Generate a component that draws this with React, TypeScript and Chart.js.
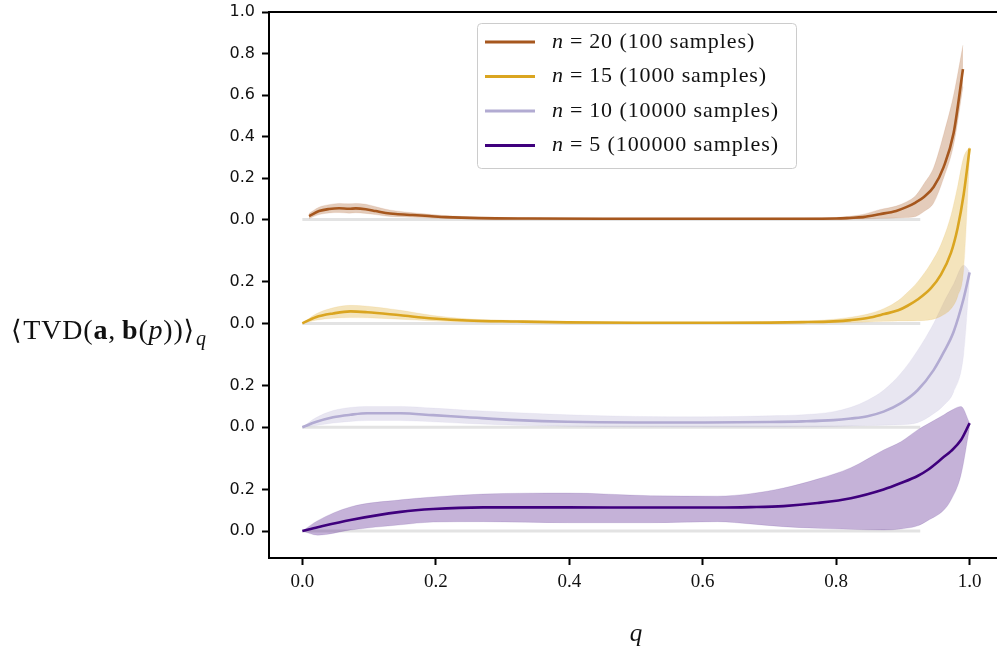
import React, { useEffect, useRef } from "react";
import { Chart, registerables } from "chart.js";

Chart.register(...registerables);

// ---------- data ----------
const N_VALUES = [20, 15, 10, 5];
const SAMPLE_COUNTS = [100, 1000, 10000, 100000];
const OFFSETS = [1.5, 1.0, 0.5, 0.0];
const COLORS = ["#a6571e", "#daa520", "#b2abd2", "#3f007d"];

const Q20 = [0.01, 0.025, 0.04, 0.055, 0.07, 0.08, 0.095, 0.11, 0.125, 0.14, 0.165, 0.19, 0.215, 0.265, 0.34, 0.45, 0.55, 0.65, 0.75, 0.8, 0.82, 0.84, 0.865, 0.89, 0.905, 0.919, 0.932, 0.946, 0.961, 0.976, 0.99];
const MEAN20 = [0.017, 0.041, 0.051, 0.055, 0.052, 0.054, 0.05, 0.041, 0.032, 0.027, 0.022, 0.017, 0.012, 0.007, 0.005, 0.004, 0.004, 0.004, 0.004, 0.005, 0.008, 0.012, 0.026, 0.042, 0.06, 0.082, 0.11, 0.157, 0.253, 0.417, 0.725];
const HIGH20 = [0.03, 0.06, 0.072, 0.078, 0.076, 0.078, 0.074, 0.062, 0.05, 0.042, 0.033, 0.026, 0.019, 0.012, 0.009, 0.007, 0.007, 0.007, 0.008, 0.01, 0.016, 0.025, 0.048, 0.065, 0.085, 0.115, 0.175, 0.25, 0.41, 0.6, 0.84];
const LOW20 = [0.005, 0.024, 0.032, 0.034, 0.031, 0.033, 0.03, 0.024, 0.017, 0.014, 0.011, 0.008, 0.006, 0.003, 0.002, 0.001, 0.001, 0.001, 0.001, 0.001, 0.002, 0.003, 0.006, 0.008, 0.01, 0.015, 0.04, 0.08, 0.2, 0.36, 0.64];

const Q15 = [0, 0.02, 0.046, 0.072, 0.097, 0.147, 0.196, 0.247, 0.322, 0.397, 0.5, 0.6, 0.7, 0.75, 0.796, 0.822, 0.847, 0.872, 0.893, 0.907, 0.922, 0.942, 0.957, 0.972, 0.982, 0.991, 1.0];
const MEAN15 = [0, 0.03, 0.048, 0.058, 0.054, 0.039, 0.024, 0.014, 0.009, 0.005, 0.003, 0.003, 0.004, 0.006, 0.01, 0.016, 0.026, 0.045, 0.063, 0.085, 0.115, 0.17, 0.235, 0.34, 0.46, 0.62, 0.843];
const HIGH15 = [0, 0.045, 0.075, 0.087, 0.083, 0.063, 0.038, 0.022, 0.014, 0.008, 0.005, 0.005, 0.007, 0.01, 0.02, 0.03, 0.045, 0.072, 0.11, 0.15, 0.2, 0.29, 0.38, 0.52, 0.66, 0.8, 0.85];
const LOW15 = [0, 0.015, 0.025, 0.028, 0.027, 0.02, 0.012, 0.007, 0.004, 0.002, 0.001, 0.001, 0.001, 0.002, 0.003, 0.005, 0.007, 0.01, 0.012, 0.012, 0.013, 0.018, 0.035, 0.07, 0.13, 0.26, 0.8];

const Q10 = [0, 0.02, 0.046, 0.072, 0.097, 0.147, 0.196, 0.247, 0.322, 0.397, 0.5, 0.6, 0.7, 0.75, 0.796, 0.822, 0.847, 0.871, 0.897, 0.922, 0.946, 0.961, 0.976, 0.991, 1.0];
const MEAN10 = [0, 0.025, 0.048, 0.06, 0.067, 0.067, 0.058, 0.048, 0.034, 0.026, 0.023, 0.023, 0.025, 0.028, 0.034, 0.042, 0.053, 0.075, 0.116, 0.178, 0.275, 0.36, 0.46, 0.62, 0.746];
const HIGH10 = [0, 0.045, 0.08, 0.095, 0.1, 0.1, 0.092, 0.082, 0.07, 0.06, 0.052, 0.05, 0.055, 0.06, 0.075, 0.096, 0.13, 0.178, 0.26, 0.37, 0.5, 0.6, 0.69, 0.78, 0.75];
const LOW10 = [0, 0.008, 0.02, 0.028, 0.032, 0.032, 0.026, 0.018, 0.01, 0.005, 0.002, 0.001, 0.001, 0.002, 0.004, 0.006, 0.008, 0.01, 0.012, 0.022, 0.065, 0.105, 0.17, 0.35, 0.72];

const Q5 = [0, 0.023, 0.072, 0.147, 0.196, 0.271, 0.397, 0.522, 0.622, 0.672, 0.721, 0.772, 0.822, 0.871, 0.897, 0.922, 0.937, 0.961, 0.972, 0.987, 1.0];
const MEAN5 = [0, 0.018, 0.053, 0.092, 0.106, 0.114, 0.114, 0.113, 0.113, 0.115, 0.12, 0.135, 0.158, 0.2, 0.231, 0.265, 0.294, 0.356, 0.385, 0.438, 0.52];
const HIGH5 = [0, 0.05, 0.116, 0.15, 0.164, 0.178, 0.183, 0.17, 0.168, 0.18, 0.207, 0.25, 0.305, 0.39, 0.43, 0.487, 0.515, 0.559, 0.58, 0.6, 0.52];
const LOW5 = [0, -0.02, 0.005, 0.03, 0.043, 0.045, 0.04, 0.04, 0.045, 0.034, 0.021, 0.013, 0.008, 0.005, 0.01, 0.025, 0.05, 0.1, 0.149, 0.27, 0.5];

const BASELINE_END = 0.926;
const X_TICKS = [0, 0.2, 0.4, 0.6, 0.8, 1.0];
const Y_TICK_VALUES = [0, 0.2, 0.5, 0.7, 1.0, 1.2, 1.5, 1.7, 1.9, 2.1, 2.3, 2.5];
const Y_TICK_LABELS = ["0.0", "0.2", "0.0", "0.2", "0.0", "0.2", "0.0", "0.2", "0.4", "0.6", "0.8", "1.0"];

const SERIES = [
  { q: Q20, mean: MEAN20, high: HIGH20, low: LOW20 },
  { q: Q15, mean: MEAN15, high: HIGH15, low: LOW15 },
  { q: Q10, mean: MEAN10, high: HIGH10, low: LOW10 },
  { q: Q5, mean: MEAN5, high: HIGH5, low: LOW5 },
];

function hexA(hex: string, a: number) {
  const r = parseInt(hex.slice(1, 3), 16);
  const g = parseInt(hex.slice(3, 5), 16);
  const b = parseInt(hex.slice(5, 7), 16);
  return `rgba(${r},${g},${b},${a})`;
}

const SERIF = '"Liberation Serif", "DejaVu Serif", serif';

type Piece = { t: string; font: string; dy?: number; gap?: number };
function drawPieces(ctx: CanvasRenderingContext2D, pieces: Piece[], x: number, y: number) {
  let cx = x;
  for (const p of pieces) {
    ctx.font = p.font;
    ctx.fillText(p.t, cx, y + (p.dy || 0));
    cx += ctx.measureText(p.t).width + (p.gap || 0);
  }
  return cx - x;
}

const decorPlugin = {
  id: "decor",
  afterDraw(chart: any) {
    const { ctx, chartArea } = chart;
    ctx.save();
    // top spine
    ctx.strokeStyle = "#000";
    ctx.lineWidth = 2;
    ctx.beginPath();
    ctx.moveTo(chartArea.left - 1, chartArea.top);
    ctx.lineTo(chartArea.right, chartArea.top);
    ctx.stroke();

    // legend
    const lx = 477, ly = 23, lw = 319, lh = 145;
    ctx.fillStyle = "rgba(255,255,255,0.85)";
    ctx.strokeStyle = "#cccccc";
    ctx.lineWidth = 1;
    ctx.beginPath();
    (ctx as any).roundRect(lx + 0.5, ly + 0.5, lw, lh, 4);
    ctx.fill();
    ctx.stroke();
    ctx.textBaseline = "middle";
    ctx.fillStyle = "#111";
    try { (ctx as any).letterSpacing = "0.9px"; } catch (e) {}
    for (let i = 0; i < N_VALUES.length; i++) {
      const cy = 42 + i * 34.5;
      ctx.strokeStyle = COLORS[i];
      ctx.lineWidth = 3;
      ctx.beginPath();
      ctx.moveTo(485, cy);
      ctx.lineTo(535, cy);
      ctx.stroke();
      ctx.fillStyle = "#111";
      drawPieces(ctx, [
        { t: "n", font: `italic 22px ${SERIF}`, gap: 6 },
        { t: "=", font: `22px ${SERIF}`, gap: 6 },
        { t: `${N_VALUES[i]} (${SAMPLE_COUNTS[i]} samples)`, font: `22px ${SERIF}` },
      ], 552, cy);
    }

    // axis titles
    ctx.textBaseline = "alphabetic";
    ctx.fillStyle = "#111";
    try { (ctx as any).letterSpacing = "0.8px"; } catch (e) {}
    const f = `28px ${SERIF}`;
    drawPieces(ctx, [
      { t: "\u27E8", font: `27px "DejaVu Serif", serif`, gap: 1 },
      { t: "TVD(", font: f },
      { t: "a", font: `bold ${f}` },
      { t: ",", font: f, gap: 6 },
      { t: "b", font: `bold ${f}` },
      { t: "(", font: f },
      { t: "p", font: `italic ${f}` },
      { t: "))", font: f },
      { t: "\u27E9", font: `27px "DejaVu Serif", serif`, gap: 1 },
      { t: "q", font: `italic 20px ${SERIF}`, dy: 6 },
    ], 11, 339);

    try { (ctx as any).letterSpacing = "0px"; } catch (e) {}
    ctx.font = `italic 25px ${SERIF}`;
    ctx.textAlign = "center";
    ctx.fillText("q", 636, 641);
    ctx.restore();
  },
};

export default function App() {
  const ref = useRef<HTMLCanvasElement | null>(null);

  useEffect(() => {
    if (!ref.current) return;
    const datasets: any[] = [];
    SERIES.forEach((s, i) => {
      const off = OFFSETS[i];
      const col = COLORS[i];
      datasets.push({
        label: `mean${i}`,
        data: s.q.map((q, k) => ({ x: q, y: s.mean[k] + off })),
        borderColor: col,
        borderWidth: 2.6,
        pointRadius: 0,
        fill: false,
        cubicInterpolationMode: "monotone",
        order: 0,
      });
      datasets.push({
        label: `high${i}`,
        data: s.q.map((q, k) => ({ x: q, y: s.high[k] + off })),
        borderColor: hexA(col, 0.15),
        borderWidth: 0.8,
        backgroundColor: hexA(col, 0.3),
        pointRadius: 0,
        fill: "+1",
        cubicInterpolationMode: "monotone",
        order: 1,
      });
      datasets.push({
        label: `low${i}`,
        data: s.q.map((q, k) => ({ x: q, y: s.low[k] + off })),
        borderColor: hexA(col, 0.15),
        borderWidth: 0.8,
        pointRadius: 0,
        fill: false,
        cubicInterpolationMode: "monotone",
        order: 1,
      });
      datasets.push({
        label: `base${i}`,
        data: [
          { x: 0, y: off },
          { x: BASELINE_END, y: off },
        ],
        borderColor: "#e3e3e3",
        borderWidth: 3,
        pointRadius: 0,
        fill: false,
        order: 2,
      });
    });

    const chart = new Chart(ref.current, {
      type: "line",
      data: { datasets },
      options: {
        animation: false,
        responsive: false,
        devicePixelRatio: 1,
        layout: { padding: { left: 0, right: 0, top: 12, bottom: 0 } },
        plugins: { legend: { display: false }, tooltip: { enabled: false } },
        scales: {
          x: {
            type: "linear",
            min: -0.05,
            max: 1.05,
            afterBuildTicks: (sc: any) => {
              sc.ticks = X_TICKS.map((v) => ({ value: v }));
            },
            afterFit: (sc: any) => {
              sc.height = 94;
              sc.paddingLeft = 0;
              sc.paddingRight = 0;
            },
            ticks: {
              callback: (v: any) => Number(v).toFixed(1),
              font: { family: SERIF, size: 19 },
              color: "#111",
              padding: 6,
              maxRotation: 0,
              autoSkip: false,
            },
            grid: { drawOnChartArea: false, drawTicks: true, tickLength: 7, tickWidth: 2, tickColor: "#000" },
            border: { display: true, color: "#000", width: 2 },
          },
          y: {
            type: "linear",
            min: -0.13,
            max: 2.5,
            afterBuildTicks: (sc: any) => {
              sc.ticks = Y_TICK_VALUES.map((v) => ({ value: v }));
            },
            afterFit: (sc: any) => {
              sc.width = 269;
              sc.paddingTop = 0;
              sc.paddingBottom = 0;
            },
            ticks: {
              callback: (_v: any, idx: number) => Y_TICK_LABELS[idx],
              font: { family: '"DejaVu Sans", sans-serif', size: 16 },
              color: "#111",
              padding: 7,
              autoSkip: false,
            },
            grid: { drawOnChartArea: false, drawTicks: true, tickLength: 7, tickWidth: 2, tickColor: "#000" },
            border: { display: true, color: "#000", width: 2 },
          },
        },
      } as any,
      plugins: [decorPlugin as any],
    });
    return () => chart.destroy();
  }, []);

  return (
    <div style={{ position: "fixed", left: 0, top: 0, width: 997, height: 652, overflow: "hidden", background: "#fff" }}>
      <canvas ref={ref} width={1003} height={652} style={{ display: "block" }} />
    </div>
  );
}
